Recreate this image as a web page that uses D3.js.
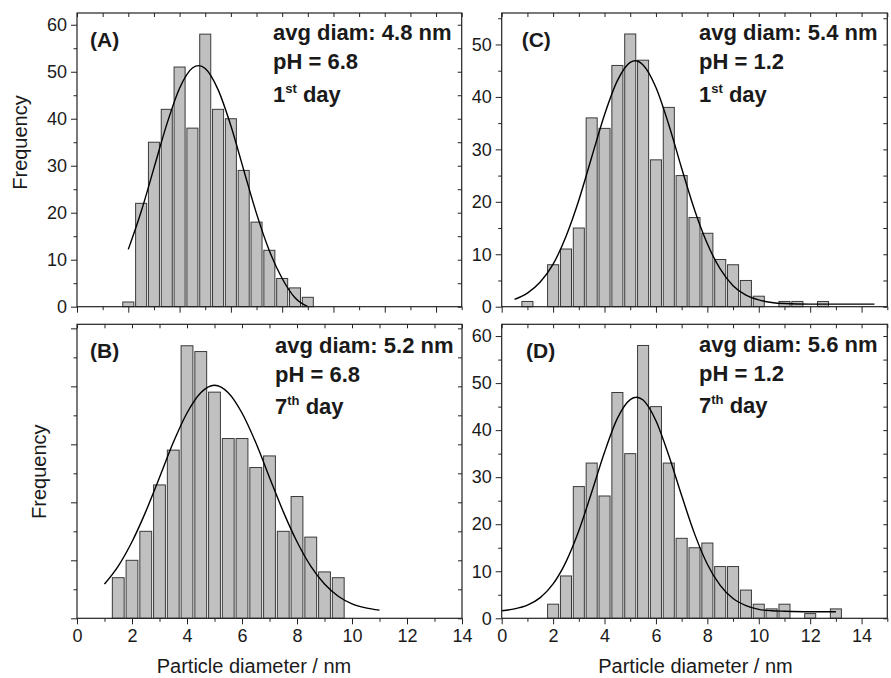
<!DOCTYPE html>
<html>
<head>
<meta charset="utf-8">
<script src="https://cdn.jsdelivr.net/npm/d3@7"></script>
<style>
body { margin: 0; background: #fff; }
text { font-family: Arial, "Liberation Sans", sans-serif; fill: #1a1a1a; }
</style>
</head>
<body>
<svg id="chart" width="891" height="678"></svg>
<script>
// histogram bin centres (nm) and counts
var binsA = [2, 2.5, 3, 3.5, 4, 4.5, 5, 5.5, 6, 6.5, 7, 7.5, 8, 8.5, 9];
var countsA = [1, 22, 35, 42, 51, 38, 58, 42, 40, 29, 18, 12, 6, 4, 2];

var binsB = [1.5, 2, 2.5, 3, 3.5, 4, 4.5, 5, 5.5, 6, 6.5, 7, 7.5, 8, 8.5, 9, 9.5];
var countsB = [7, 10, 15, 23, 29, 47, 46, 39, 31, 31, 26, 28, 15, 21, 14, 8, 7];

var binsC = [1, 2, 2.5, 3, 3.5, 4, 4.5, 5, 5.5, 6, 6.5, 7, 7.5, 8, 8.5, 9, 9.5, 10, 11, 11.5, 12.5];
var countsC = [1, 8, 11, 15, 36, 34, 46, 52, 47, 28, 38, 25, 17, 14, 9, 8, 5, 2, 1, 1, 1];

var binsD = [2, 2.5, 3, 3.5, 4, 4.5, 5, 5.5, 6, 6.5, 7, 7.5, 8, 8.5, 9, 9.5, 10, 10.5, 11, 12, 13];
var countsD = [3, 9, 28, 33, 26, 48, 35, 58, 45, 33, 17, 15, 16, 11, 11, 6, 3, 2, 3, 1, 2];

// fitted curves, points
var fitXA = [2, 2.5, 3, 3.5, 4, 4.5, 4.75, 5, 5.5, 6, 6.5, 7, 7.5, 8, 8.5, 9];
var fitYA = [12.2, 20.2, 29.5, 38.8, 46.5, 50.8, 51.3, 50.7, 46.2, 38.5, 29.1, 19.8, 11.9, 6.0, 1.9, 0];

var fitXB = [1, 1.5, 2, 2.5, 3, 3.5, 4, 4.5, 5, 5.5, 6, 6.5, 7, 7.5, 8, 8.5, 9, 9.5, 10, 10.5, 11];
var fitYB = [5.9, 9.0, 13.2, 18.4, 24.3, 30.3, 35.4, 38.9, 40.2, 38.9, 35.4, 30.3, 24.3, 18.4, 13.2, 9.0, 5.9, 3.8, 2.5, 1.8, 1.4];

var fitXC = [0.5, 1, 1.5, 2, 2.5, 3, 3.5, 4, 4.5, 5, 5.2, 5.5, 6, 6.5, 7, 7.5, 8, 8.5, 9, 9.5, 10, 10.5, 11, 12, 13, 14.5];
var fitYC = [1.4, 2.6, 4.7, 8.1, 13.4, 20.3, 28.5, 36.6, 43.1, 46.6, 46.9, 46.1, 41.8, 34.7, 26.4, 18.5, 12.0, 7.2, 4.0, 2.2, 1.3, 0.8, 0.6, 0.5, 0.5, 0.5];

var fitXD = [0, 0.5, 1, 1.5, 2, 2.5, 3, 3.5, 4, 4.5, 5, 5.25, 5.5, 6, 6.5, 7, 7.5, 8, 8.5, 9, 9.5, 10, 10.5, 11, 12, 13];
var fitYD = [1.6, 2.0, 2.8, 4.4, 7.3, 12.0, 18.6, 26.8, 35.3, 42.5, 46.5, 47.0, 46.4, 42.0, 34.6, 26.1, 18.0, 11.5, 7.0, 4.2, 2.7, 1.9, 1.6, 1.5, 1.4, 1.4];

var xTicksMajor = [0, 2, 4, 6, 8, 10, 12, 14];

var panels = [
  { name: "(A)", bins: binsA, counts: countsA, fx: fitXA, fy: fitYA,
    left: 77, right: 461.7, top: 13, bottom: 306.7, xmax: 15, ymax: 62.5,
    yMajor: [0, 10, 20, 30, 40, 50, 60], yLabels: true, xLabels: false,
    lab: [90, 46.5], ann: [273, 40, 68.5, 102],
    lines: ["avg diam: 4.8 nm", "pH = 6.8"], day: ["1", "st"] },
  { name: "(C)", bins: binsC, counts: countsC, fx: fitXC, fy: fitYC,
    left: 501.7, right: 887.3, top: 13, bottom: 306.7, xmax: 15, ymax: 56,
    yMajor: [0, 10, 20, 30, 40, 50], yLabels: true, xLabels: false,
    lab: [521.7, 46.5], ann: [699, 40, 68.5, 102],
    lines: ["avg diam: 5.4 nm", "pH = 1.2"], day: ["1", "st"] },
  { name: "(B)", bins: binsB, counts: countsB, fx: fitXB, fy: fitYB,
    left: 77, right: 462, top: 324.3, bottom: 618.3, xmax: 14, ymax: 50.7,
    yMajor: [0, 10, 20, 30, 40, 50], yLabels: false, xLabels: true,
    lab: [90, 357.5], ann: [275, 352.5, 381.5, 414],
    lines: ["avg diam: 5.2 nm", "pH = 6.8"], day: ["7", "th"] },
  { name: "(D)", bins: binsD, counts: countsD, fx: fitXD, fy: fitYD,
    left: 501.7, right: 887.3, top: 324.3, bottom: 618.3, xmax: 15, ymax: 62.5,
    yMajor: [0, 10, 20, 30, 40, 50, 60], yLabels: true, xLabels: true,
    lab: [526, 358], ann: [699, 351.7, 381, 413.3],
    lines: ["avg diam: 5.6 nm", "pH = 1.2"], day: ["7", "th"] }
];

var svg = d3.select("#chart");
var barW = 0.43;

panels.forEach(function(p) {
  var x = d3.scaleLinear().domain([0, p.xmax]).range([p.left, p.right]);
  var y = d3.scaleLinear().domain([0, p.ymax]).range([p.bottom, p.top]);
  var g = svg.append("g");

  var xMinor = d3.range(1, p.xmax + 0.5, 2);
  var yMinor = d3.range(5, p.ymax, 10);
  var xAll = d3.range(0, p.xmax + 0.5, 1);
  var yAll = d3.range(0, p.ymax, 5);

  // bars
  g.selectAll("rect.bar")
    .data(p.bins.map(function(b, i) { return { x: b, v: p.counts[i] }; }))
    .enter().append("rect")
    .attr("class", "bar")
    .attr("x", function(d) { return x(d.x - barW / 2); })
    .attr("width", function(d) { return x(barW) - x(0); })
    .attr("y", function(d) { return y(d.v); })
    .attr("height", function(d) { return y(0) - y(d.v); })
    .attr("fill", "#c0c0c0")
    .attr("stroke", "#3a3a3a")
    .attr("stroke-width", 1);

  // fitted curve
  var line = d3.line()
    .x(function(d) { return x(d[0]); })
    .y(function(d) { return y(d[1]); })
    .curve(d3.curveMonotoneX);
  g.append("path")
    .datum(p.fx.map(function(v, i) { return [v, p.fy[i]]; }))
    .attr("d", line)
    .attr("fill", "none")
    .attr("stroke", "#000")
    .attr("stroke-width", 1.4);

  // bottom axis
  var bx = d3.axisBottom(x).tickValues(xTicksMajor).tickSizeInner(6).tickSizeOuter(0).tickPadding(5)
    .tickFormat(p.xLabels ? d3.format("d") : "");
  var bxm = d3.axisBottom(x).tickValues(xMinor).tickSizeInner(3.5).tickSizeOuter(0).tickFormat("");
  g.append("g").attr("transform", "translate(0," + p.bottom + ")").call(bx);
  g.append("g").attr("transform", "translate(0," + p.bottom + ")").call(bxm);

  // left axis
  var ly = d3.axisLeft(y).tickValues(p.yMajor).tickSizeInner(6).tickSizeOuter(0).tickPadding(4)
    .tickFormat(p.yLabels ? d3.format("d") : "");
  var lym = d3.axisLeft(y).tickValues(yMinor).tickSizeInner(3.5).tickSizeOuter(0).tickFormat("");
  g.append("g").attr("transform", "translate(" + p.left + ",0)").call(ly);
  g.append("g").attr("transform", "translate(" + p.left + ",0)").call(lym);

  // mirrored ticks pointing inward
  var tx = d3.axisTop(x).tickValues(xAll).tickSizeInner(-4).tickSizeOuter(0).tickFormat("");
  var ry = d3.axisRight(y).tickValues(yAll).tickSizeInner(-4).tickSizeOuter(0).tickFormat("");
  g.append("g").attr("transform", "translate(0," + p.top + ")").call(tx);
  g.append("g").attr("transform", "translate(" + p.right + ",0)").call(ry);

  g.selectAll(".domain").remove();
  g.selectAll(".tick line").attr("stroke", "#222").attr("stroke-width", 1);
  g.selectAll(".tick text").style("font-size", "18px").style("fill", "#1a1a1a")
    .style("font-family", "Arial, 'Liberation Sans', sans-serif");

  // frame
  g.append("rect")
    .attr("x", p.left).attr("y", p.top)
    .attr("width", p.right - p.left).attr("height", p.bottom - p.top)
    .attr("fill", "none").attr("stroke", "#222").attr("stroke-width", 1.2);

  // panel letter
  g.append("text").attr("x", p.lab[0]).attr("y", p.lab[1])
    .style("font-size", "21px").style("font-weight", "bold").text(p.name);

  // annotation
  g.append("text").attr("x", p.ann[0]).attr("y", p.ann[1])
    .style("font-size", "22px").style("font-weight", "bold")
    .text(p.lines[0]);
  g.append("text").attr("x", p.ann[0]).attr("y", p.ann[2])
    .style("font-size", "22px").style("font-weight", "bold")
    .text(p.lines[1]);
  var dt = g.append("text").attr("x", p.ann[0]).attr("y", p.ann[3])
    .style("font-size", "22px").style("font-weight", "bold");
  dt.append("tspan").text(p.day[0]);
  dt.append("tspan").attr("dy", -9).style("font-size", "13px").text(p.day[1]);
  dt.append("tspan").attr("dy", 9).text(" day");
});

// axis titles
svg.append("text").attr("transform", "translate(27,142.5) rotate(-90)")
  .attr("text-anchor", "middle").style("font-size", "20px").text("Frequency");
svg.append("text").attr("transform", "translate(45.5,471.7) rotate(-90)")
  .attr("text-anchor", "middle").style("font-size", "20px").text("Frequency");
svg.append("text").attr("x", 254).attr("y", 673)
  .attr("text-anchor", "middle").style("font-size", "20px").text("Particle diameter / nm");
svg.append("text").attr("x", 695.5).attr("y", 673)
  .attr("text-anchor", "middle").style("font-size", "20px").text("Particle diameter / nm");
</script>
</body>
</html>
